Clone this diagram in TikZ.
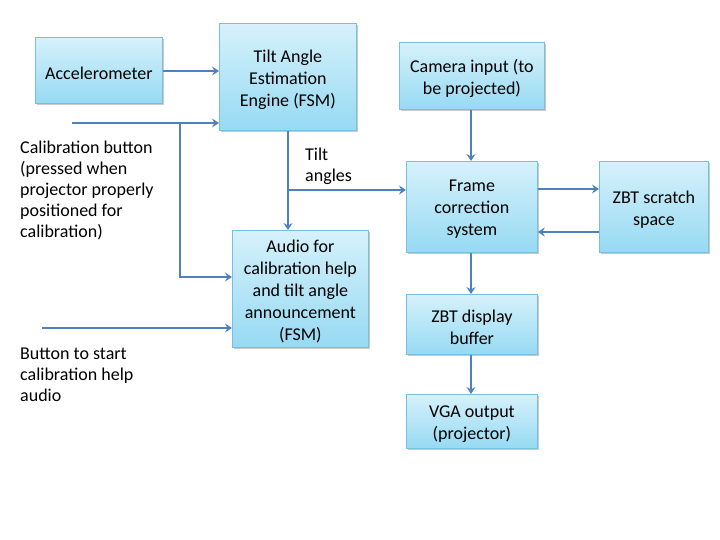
\documentclass[tikz,border=0pt]{standalone}
\usepackage{fontspec}
\setmainfont{Carlito}
\usetikzlibrary{arrows.meta,shadows}
\definecolor{boxtop}{RGB}{214,241,251}
\definecolor{boxbot}{RGB}{150,218,243}
\definecolor{boxline}{RGB}{120,190,222}
\definecolor{arr}{RGB}{79,129,189}
\tikzset{
  blk/.style={draw=boxline, line width=0.8pt, top color=boxtop, bottom color=boxbot,
    inner sep=0pt, anchor=north west,
    drop shadow={shadow xshift=1.2pt, shadow yshift=-1.5pt, opacity=0.35, fill=black!60}},
  btxt/.style={align=center, inner sep=0pt, font=\fontsize{18}{22}\selectfont},
  conn/.style={draw=arr, line width=1.8pt, -{Stealth[length=7pt,width=9pt,inset=2.5pt]}},
  lbl/.style={align=left, anchor=north west, inner sep=0pt, font=\fontsize{18}{21}\selectfont}
}
\newcommand\mybox[6]{%
  \node[blk, minimum width=#4pt, minimum height=#5pt] (#1) at (#2,#3) {};
  \node[btxt] (#1-t) at ([yshift=-2.5pt]#1.center) {#6};}
\begin{document}
\begin{tikzpicture}[x=1pt,y=-1pt]
\useasboundingbox (0,0) rectangle (720,540);
\mybox{acc}{35}{37}{127}{66}{Accelerometer}
\mybox{tilt}{219}{23}{137}{107}{Tilt Angle\\Estimation\\Engine (FSM)}
\mybox{audio}{232}{230}{136}{117}{Audio for\\calibration help\\and tilt angle\\announcement\\(FSM)}
\mybox{cam}{399}{42}{145}{67}{Camera input (to\\be projected)}
\mybox{frame}{406}{161}{131}{91}{Frame\\correction\\system}
\mybox{scr}{599}{161}{109}{91}{ZBT scratch\\space}
\mybox{disp}{406}{294}{131}{60}{ZBT display\\buffer}
\mybox{vga}{406}{394}{131}{54}{VGA output\\(projector)}

\node[lbl] (callbl) at (20,141) {Calibration button\\(pressed when\\projector properly\\positioned for\\calibration)};
\node[lbl] (btnlbl) at (20,348) {Button to start\\calibration help\\audio};
\node[lbl] (tiltlbl) at (305,148) {Tilt\\angles};

\coordinate (calin) at (72,123);
\coordinate (calbr) at (180,123);
\coordinate (btnin) at (42,328);
\coordinate (tbr) at (288,190);

\draw[conn] (acc.east |- 0,71) -- (tilt.west |- 0,71);
\draw[conn] (calin) -- (tilt.west |- calin);
\draw[conn] (calbr) |- (audio.west |- 0,277);
\draw[conn] (btnin) -- (audio.west |- btnin);
\draw[conn] (tilt.south -| 288,0) -- (audio.north -| 288,0);
\draw[conn] (tbr) -- (frame.west |- tbr);
\draw[conn] (cam.south -| 471,0) -- (frame.north -| 471,0);
\draw[conn] (frame.east |- 0,189) -- (scr.west |- 0,189);
\draw[conn] (scr.west |- 0,232) -- (frame.east |- 0,232);
\draw[conn] (frame.south -| 471,0) -- (disp.north -| 471,0);
\draw[conn] (disp.south -| 471,0) -- (vga.north -| 471,0);
\end{tikzpicture}
\end{document}
